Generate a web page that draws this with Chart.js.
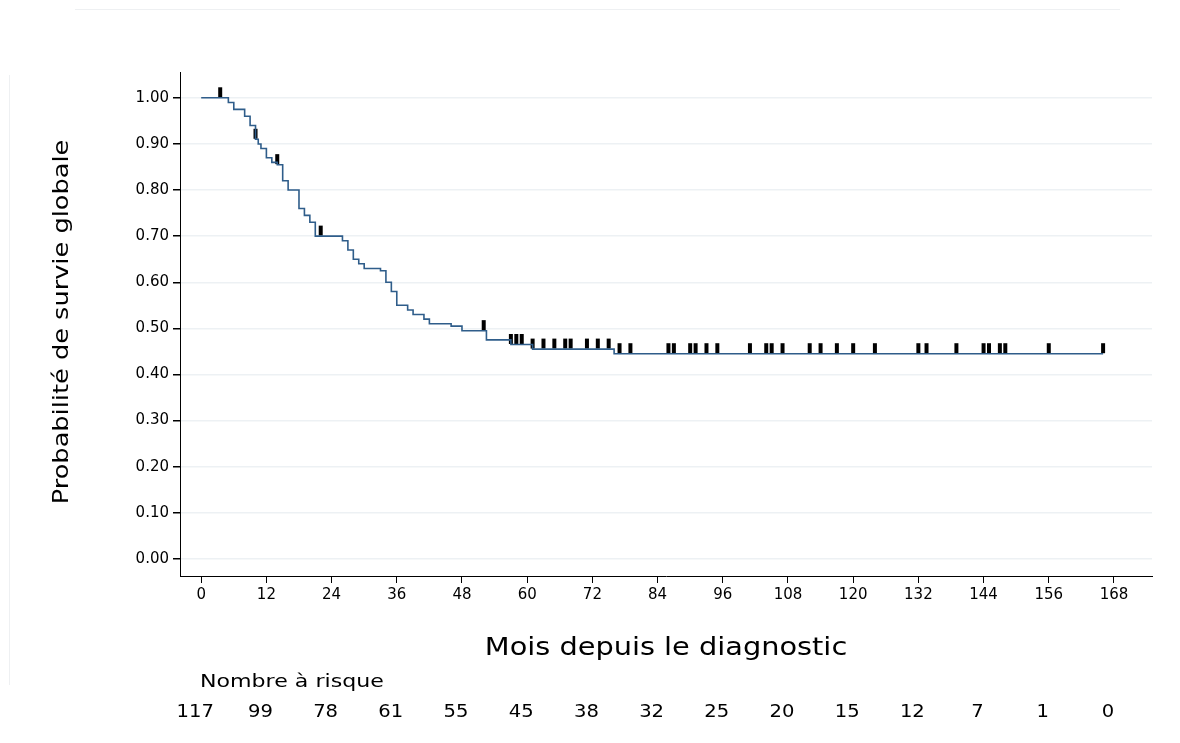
<!DOCTYPE html>
<html><head><meta charset="utf-8">
<script src="https://cdn.jsdelivr.net/npm/chart.js"></script>
<style>html,body{margin:0;padding:0;background:#fff}#w{position:relative;width:1180px;height:743px}
#t{position:absolute;left:75px;top:9px;width:1045px;height:1px;background:#eef0f2}
#l{position:absolute;left:9px;top:75px;width:1px;height:610px;background:#eef0f2}</style>
</head><body><div id="w"><div id="t"></div><div id="l"></div><canvas id="c" width="1180" height="743"></canvas></div>
<script>
const stepMonths=[0,5,6,8,9,10,10.5,11,12,13,14,15,16,18,19,20,21,26,27,28,29,30,33,34,35,36,38,39,41,42,46,48,52.5,53,57,61,76,166];
const stepSurv=[1.0,0.99,0.975,0.96,0.94,0.91,0.90,0.89,0.87,0.86,0.855,0.82,0.80,0.76,0.745,0.73,0.70,0.69,0.67,0.65,0.64,0.63,0.625,0.60,0.58,0.55,0.54,0.53,0.52,0.51,0.505,0.495,0.475,0.475,0.465,0.455,0.445,0.445];
const censorMonths=[3.5,10,14,22,52,57,58,59,61,63,65,67,68,71,73,75,77,79,86,87,90,91,93,95,101,104,105,107,112,114,117,120,124,132,133.5,139,144,145,147,148,156,166];
const xTicks=[0,12,24,36,48,60,72,84,96,108,120,132,144,156,168];
const atRisk=[117,99,78,61,55,45,38,32,25,20,15,12,7,1,0];
function survAt(m){let s=1;for(let i=0;i<stepMonths.length;i++){if(stepMonths[i]<=m)s=stepSurv[i];}return s;}
const font="'DejaVu Sans', sans-serif";
function stretched(c,text,x,y,sx,align){c.save();c.translate(x,y);c.scale(sx,1);c.textAlign=align;c.fillText(text,0,0);c.restore();}
const riskPlugin={id:'risk',afterDraw(ch){const c=ch.ctx,x=ch.scales.x;c.save();c.fillStyle='#000';
c.textBaseline='middle';
c.font='24px '+font;stretched(c,'Mois depuis le diagnostic',666,649,1.2,'center');
c.save();c.translate(63,322);c.rotate(-Math.PI/2);c.scale(1.22,1);c.font='21px '+font;c.textAlign='center';c.fillText('Probabilité de survie globale',0,0);c.restore();
c.font='17px '+font;stretched(c,'Nombre à risque',200,683,1.3,'left');
c.font='17px '+font;
xTicks.forEach((t,i)=>stretched(c,String(atRisk[i]),x.getPixelForValue(t)-6,713,1.15,'center'));c.restore();}};
new Chart(document.getElementById('c'),{
type:'scatter',
data:{datasets:[
{type:'line',data:stepMonths.map((m,i)=>({x:m,y:stepSurv[i]})),stepped:'before',borderColor:'#2f5d8a',borderWidth:1.6,pointRadius:0,fill:false},
{data:censorMonths.map(m=>({x:m,y:survAt(m)+0.012})),pointStyle:'line',rotation:90,radius:5,borderWidth:4,borderColor:'#000',backgroundColor:'#000'}
]},
options:{responsive:false,animation:false,
layout:{padding:{top:72,right:28,left:0,bottom:0}},
plugins:{legend:{display:false},tooltip:{enabled:false}},
scales:{
x:{type:'linear',min:-3.9,max:175,afterFit(s){s.height=167;},
afterBuildTicks(s){s.ticks=xTicks.map(v=>({value:v}));},
grid:{display:true,drawOnChartArea:false,color:'#000',tickLength:7,tickColor:'#000'},border:{color:'#000',width:1},
ticks:{color:'#000',font:{family:font,size:15},padding:3,maxRotation:0}},
y:{min:-0.037,max:1.056,afterFit(s){s.width=180;},
afterBuildTicks(s){s.ticks=[0,.1,.2,.3,.4,.5,.6,.7,.8,.9,1].map(v=>({value:v}));},
grid:{color:'#edf1f4',tickColor:'#000',tickLength:7,lineWidth:1.5},border:{color:'#000',width:1},
ticks:{color:'#000',font:{family:font,size:15},callback:v=>v.toFixed(2),padding:4}}
}},
plugins:[riskPlugin]});
</script></body></html>
